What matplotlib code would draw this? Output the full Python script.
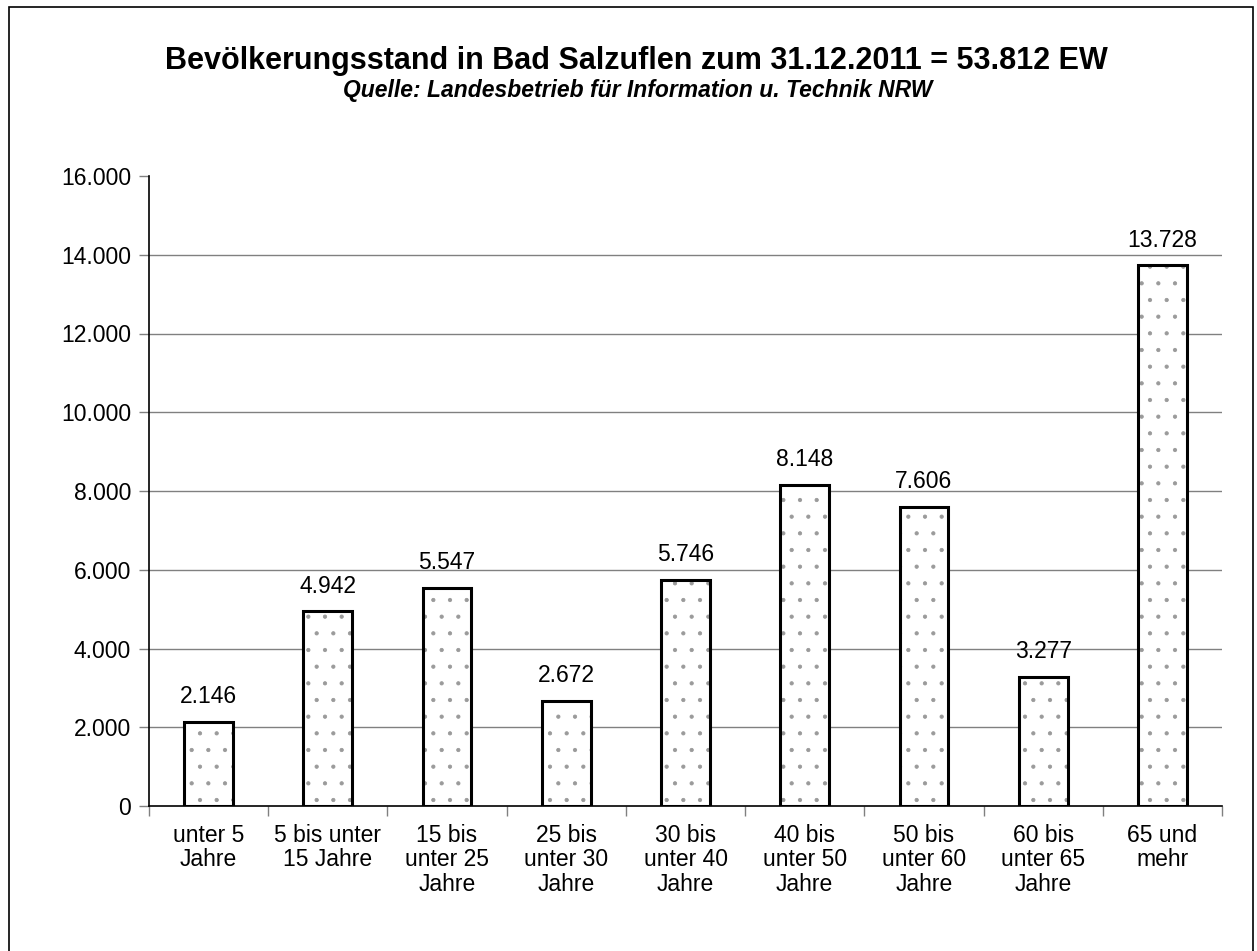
import matplotlib
matplotlib.use("Agg")
import matplotlib.pyplot as plt
from matplotlib.patches import Rectangle
import numpy as np

categories = ["unter 5\nJahre", "5 bis unter\n15 Jahre", "15 bis\nunter 25\nJahre", "25 bis\nunter 30\nJahre",
              "30 bis\nunter 40\nJahre", "40 bis\nunter 50\nJahre", "50 bis\nunter 60\nJahre",
              "60 bis\nunter 65\nJahre", "65 und\nmehr"]
values = [2146, 4942, 5547, 2672, 5746, 8148, 7606, 3277, 13728]
yticks = [0, 2000, 4000, 6000, 8000, 10000, 12000, 14000, 16000]

plt.rcParams['font.family'] = ['Liberation Sans', 'DejaVu Sans']
plt.rcParams['hatch.linewidth'] = 0.6

def de(v):
    return f"{v:,.0f}".replace(",", ".")

fig = plt.figure(figsize=(12.57, 9.51), dpi=100)
fig.patches.append(Rectangle((9/1257, -0.05), (1253-9)/1257, 1.05 - 7/951, transform=fig.transFigure,
                             fill=False, edgecolor='black', linewidth=1.2, zorder=0))
ax = fig.add_axes([149/1257, 1-806/951, (1222-149)/1257, (806-176)/951])

x = np.arange(len(values))
ax.bar(x, values, width=0.41, color='white', edgecolor='#9a9a9a', hatch='.', linewidth=0, zorder=2)
ax.bar(x, values, width=0.41, fill=False, edgecolor='black', linewidth=2.2, zorder=3)
for xi, v in zip(x, values):
    ax.annotate(de(v), (xi, v), xytext=(0, 10), textcoords='offset points', ha='center', va='bottom', fontsize=16.5)

ax.set_xlim(-0.5, len(values) - 0.5)
ax.set_ylim(0, 16000)
ax.set_yticks(yticks)
ax.set_yticklabels([de(t) for t in yticks], fontsize=16.5)
ax.set_xticks(np.arange(len(values) + 1) - 0.5)
ax.set_xticklabels([])
ax.set_xticks(x, minor=True)
ax.set_xticklabels(categories, minor=True, fontsize=16.5, linespacing=1.07, va='top')
ax.tick_params(axis='x', which='minor', length=0, pad=13)
ax.tick_params(axis='x', which='major', length=7, color='#808080', width=1)
ax.tick_params(axis='y', length=7, color='#808080', width=1, pad=6)
for yv in yticks[1:-1]:
    ax.axhline(yv, color='#808080', linewidth=1, zorder=1)
for s in ['top', 'right']:
    ax.spines[s].set_visible(False)
ax.spines['left'].set_linewidth(1.2)
ax.spines['bottom'].set_linewidth(1.2)

fig.text(636/1257, 1-61/951, "Bevölkerungsstand in Bad Salzuflen zum 31.12.2011 = 53.812 EW",
         ha='center', va='center', fontsize=22, fontweight='bold')
fig.text(638/1257, 1-91/951, "Quelle: Landesbetrieb für Information u. Technik NRW",
         ha='center', va='center', fontsize=16.5, fontweight='bold', style='italic')

fig.savefig("out.png", dpi=100)
